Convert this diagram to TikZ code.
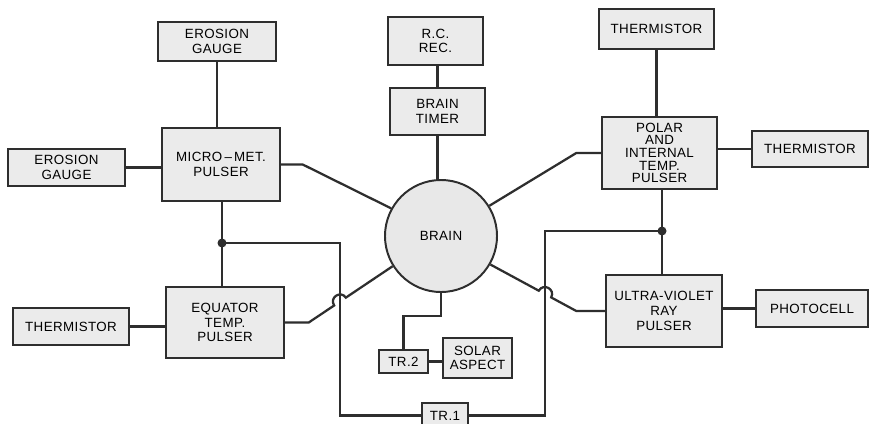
\documentclass[tikz,border=0pt]{standalone}
\usepackage{fontspec}
\setmainfont{Liberation Sans}
\newfontfamily\lblfont[LetterSpace=3]{Liberation Sans}
\usetikzlibrary{calc}
\definecolor{boxgray}{gray}{0.92}
\definecolor{inkgray}{gray}{0.18}
\tikzset{
  box/.style={draw=inkgray, line width=1pt, fill=boxgray, align=center, inner sep=1pt,
    font=\lblfont\fontsize{9.5}{10.5}\selectfont},
  wire/.style={draw=inkgray, line width=1.6pt},
  hop/.style={bend left=90, looseness=1.7},
  hopr/.style={bend right=90, looseness=1.7}
}

\begin{document}
\begin{tikzpicture}[x=0.025cm, y=-0.025cm]
\useasboundingbox[fill=white] (0,0) rectangle (869,423);

% boxes
\node[box, minimum width=2.95cm, minimum height=0.975cm] (eroT) at (217,41.5) {EROSION\\GAUGE};
\node[box, minimum width=2.925cm, minimum height=0.925cm] (eroL) at (66.5,167.5) {EROSION\\GAUGE};
\node[box, minimum width=2.95cm, minimum height=1.825cm] (micro) at (221,164.5) {MICRO\,\textendash\,MET.\\PULSER};
\node[box, minimum width=2.375cm, minimum height=1.2cm] (rcrec) at (435.5,41) {R.C.\\REC.};
\node[box, minimum width=2.375cm, minimum height=1.175cm] (timer) at (437.5,111.5) {BRAIN\\TIMER};
\node[box, minimum width=2.875cm, minimum height=1cm] (thermT) at (656.5,29) {THERMISTOR};
\node[box, minimum width=2.875cm, minimum height=1.8cm, font=\lblfont\fontsize{9.5}{9}\selectfont] (polar) at (659.5,153) {POLAR\\AND\\INTERNAL\\TEMP.\\PULSER};
\node[box, minimum width=2.9cm, minimum height=0.9cm] (thermR) at (810,149) {THERMISTOR};
\node[box, minimum width=2.9cm, minimum height=0.925cm] (thermL) at (71,326.5) {THERMISTOR};
\node[box, minimum width=2.95cm, minimum height=1.775cm] (equator) at (225,322.5) {EQUATOR\\TEMP.\\PULSER};
\node[box, minimum width=2.9cm, minimum height=1.8cm] (uv) at (664,311) {ULTRA-VIOLET\\RAY\\PULSER};
\node[box, minimum width=2.8cm, minimum height=0.925cm] (photo) at (812,308.5) {PHOTOCELL};
\node[box, minimum width=1.225cm, minimum height=0.575cm] (tr2) at (403.5,361.5) {TR.2};
\node[box, minimum width=1.725cm, minimum height=1cm] (solar) at (477.5,358) {SOLAR\\ASPECT};
\node[box, minimum width=1.15cm, minimum height=0.625cm] (tr1) at (445,415.5) {TR.1};
\node[box, circle, line width=1.4pt, fill=gray!18, minimum size=2.8cm] (brain) at (441,236) {BRAIN};

% junctions and bends
\coordinate (jl) at (222,243);
\coordinate (jl2) at (340,243);
\coordinate (jl3) at (jl2 |- tr1.west);
\coordinate (jr) at (662,231);
\coordinate (jr2) at (545,231);
\coordinate (jr3) at (jr2 |- tr1.east);
\coordinate (eqb) at ($(equator.east)+(24,0)$);
\coordinate (uvb) at ($(uv.west)+(-29,0)$);
\coordinate (b1) at (brain.212);
\coordinate (b4) at (brain.330);
\coordinate (xl) at (intersection of eqb--b1 and jl2--jl3);
\coordinate (xr) at (intersection of uvb--b4 and jr2--jr3);

% connectors
\draw[wire] (eroT.south) -- (eroT.south |- micro.north);
\draw[wire] (eroL.east) -- (eroL.east -| micro.west);
\draw[wire] (micro.east) -- ++(22,0) -- (brain.151);
\draw[wire] (jl |- micro.south) -- (jl |- equator.north);
\draw[wire] (jl) -- (jl2) |- (tr1.west);
\fill[inkgray] (jl) circle[radius=3.2pt];
\draw[wire] (thermL.east) -- (thermL.east -| equator.west);
\draw[wire] (equator.east) -- (eqb) -- ($(xl)!5pt!(eqb)$) to[hop] ($(xl)!5pt!(b1)$) -- (b1);
\draw[wire] (timer.north) -- (timer.north |- rcrec.south);
\draw[wire] (timer.south) -- (timer.south |- brain.north);
\draw[wire] (thermT.south) -- (thermT.south |- polar.north);
\draw[wire] (polar.west) -- ++(-25,0) -- (brain.32);
\draw[wire] (thermR.west -| polar.east) -- (thermR.west);
\draw[wire] (jr |- polar.south) -- (jr |- uv.north);
\draw[wire] (jr) -- (jr2) |- (tr1.east);
\fill[inkgray] (jr) circle[radius=3.2pt];
\draw[wire] (uv.west) -- (uvb) -- ($(xr)!5pt!(uvb)$) to[hopr] ($(xr)!5pt!(b4)$) -- (b4);
\draw[wire] (uv.east |- photo.west) -- (photo.west);
\draw[wire] (brain.south) -- ++(0,23) -| (tr2.north);
\draw[wire] (tr2.east) -- (tr2.east -| solar.west);
\end{tikzpicture}
\end{document}
